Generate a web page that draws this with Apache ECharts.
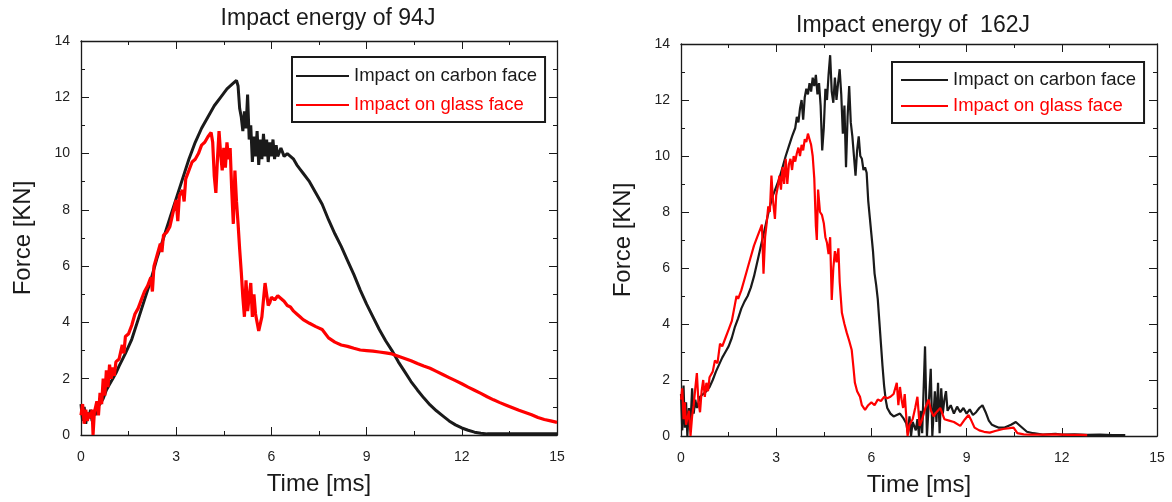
<!DOCTYPE html>
<html>
<head>
<meta charset="utf-8">
<script src="https://cdn.jsdelivr.net/npm/echarts@6/dist/echarts.min.js"></script>
<style>
html,body{margin:0;padding:0;background:#fff;}
#chart{width:1172px;height:502px;}
</style>
</head>
<body>
<div id="chart"></div>
<script>
// ---- Data (time in ms, force in kN) ----
const carbon94T = [0,0.05,0.1,0.15,0.2,0.25,0.3,0.35,0.4,0.45,0.5,0.6,0.7,0.8,0.9,1.0,1.1,1.2,1.4,1.6,1.8,2.0,2.2,2.4,2.6,2.8,3.0,3.2,3.4,3.6,3.8,4.0,4.2,4.4,4.6,4.8,4.9,4.95,5.0,5.05,5.1,5.15,5.2,5.25,5.3,5.35,5.4,5.45,5.5,5.55,5.6,5.65,5.7,5.75,5.8,5.85,5.9,5.95,6.0,6.05,6.1,6.15,6.2,6.3,6.4,6.5,6.6,6.7,6.8,6.9,7.0,7.2,7.4,7.6,7.8,8.0,8.2,8.4,8.6,8.8,9.0,9.2,9.4,9.6,9.8,10.0,10.2,10.4,10.6,10.8,11.0,11.2,11.4,11.6,11.8,12.0,12.2,12.4,12.6,12.8,13.0,13.5,14.0,14.5,15.0];
const carbon94F = [1.1,0.5,1.0,0.4,0.8,0.6,0.9,0.5,0.8,0.7,1.0,1.1,1.3,1.6,1.8,2.0,2.2,2.45,2.9,3.4,4.1,4.8,5.5,6.3,7.0,7.7,8.4,9.1,9.8,10.4,10.9,11.3,11.7,12.0,12.3,12.5,12.6,12.4,11.6,11.3,10.8,11.5,10.9,12.1,10.5,11.0,9.7,10.6,9.9,10.8,9.6,10.5,9.8,10.7,9.9,10.5,9.7,10.4,9.9,10.5,9.8,10.3,9.9,10.2,9.9,10.0,9.9,9.8,9.6,9.45,9.3,9.0,8.6,8.2,7.65,7.15,6.7,6.2,5.7,5.15,4.65,4.2,3.75,3.35,3.0,2.6,2.25,1.9,1.6,1.32,1.07,0.86,0.68,0.5,0.36,0.25,0.17,0.1,0.06,0.04,0.04,0.04,0.04,0.04,0.04];

const glass94T = [0,0.05,0.1,0.15,0.2,0.25,0.3,0.35,0.38,0.42,0.5,0.55,0.6,0.65,0.7,0.75,0.8,0.85,0.9,0.95,1.0,1.05,1.1,1.2,1.3,1.35,1.4,1.5,1.6,1.7,1.8,1.9,2.0,2.1,2.2,2.25,2.3,2.4,2.5,2.55,2.6,2.7,2.8,2.9,3.0,3.05,3.1,3.2,3.25,3.3,3.4,3.5,3.6,3.7,3.8,3.9,4.0,4.1,4.15,4.2,4.25,4.3,4.35,4.4,4.45,4.5,4.55,4.6,4.65,4.7,4.75,4.8,4.85,4.9,4.95,5.0,5.05,5.1,5.15,5.2,5.25,5.3,5.35,5.4,5.45,5.5,5.55,5.6,5.65,5.7,5.75,5.8,5.85,5.9,5.95,6.0,6.1,6.2,6.3,6.4,6.5,6.6,6.7,6.8,6.9,7.0,7.2,7.4,7.6,7.8,8.0,8.2,8.4,8.6,8.8,9.0,9.2,9.4,9.6,9.8,10.0,10.2,10.4,10.6,10.8,11.0,11.2,11.4,11.6,11.8,12.0,12.2,12.4,12.6,12.8,13.0,13.2,13.4,13.6,13.8,14.0,14.2,14.4,14.6,14.8,15.0];
const glass94F = [0.7,1.1,0.4,0.9,0.5,0.8,0.6,0.9,0.0,0.8,1.2,0.7,1.5,1.1,2.0,1.4,2.3,1.7,2.5,2.0,2.4,2.1,2.6,2.7,3.2,2.9,3.5,3.6,3.9,4.3,4.5,4.8,5.1,5.3,5.6,5.1,6.0,6.4,6.8,6.5,7.1,7.2,7.4,7.9,8.35,7.6,8.5,8.7,8.3,9.1,9.4,9.7,9.8,10.0,10.3,10.4,10.6,10.75,10.4,9.2,8.6,9.8,10.8,10.0,9.4,10.2,9.5,10.4,9.8,10.2,8.7,7.5,9.4,8.3,7.5,6.6,5.8,4.9,4.2,5.5,4.4,4.9,5.4,4.2,5.0,4.3,4.0,3.7,3.65,4.2,4.8,5.4,5.0,4.6,4.7,4.9,4.8,4.95,4.85,4.75,4.6,4.55,4.4,4.3,4.2,4.1,3.97,3.85,3.75,3.45,3.3,3.2,3.15,3.08,3.02,3.0,2.98,2.95,2.92,2.88,2.8,2.72,2.64,2.54,2.45,2.37,2.26,2.15,2.04,1.93,1.82,1.7,1.59,1.48,1.36,1.25,1.15,1.06,0.97,0.88,0.8,0.72,0.62,0.55,0.5,0.45];

const carbon162T = [0,0.04,0.08,0.12,0.16,0.2,0.25,0.3,0.35,0.4,0.45,0.5,0.6,0.7,0.8,0.9,1.0,1.1,1.2,1.3,1.4,1.5,1.6,1.7,1.8,1.9,2.0,2.1,2.2,2.3,2.4,2.5,2.6,2.7,2.8,2.9,3.0,3.1,3.2,3.3,3.4,3.5,3.6,3.65,3.7,3.75,3.8,3.85,3.9,3.95,4.0,4.05,4.1,4.15,4.2,4.25,4.3,4.35,4.4,4.45,4.5,4.55,4.6,4.65,4.7,4.75,4.8,4.85,4.9,4.95,5.0,5.05,5.1,5.15,5.2,5.25,5.3,5.35,5.4,5.45,5.5,5.55,5.6,5.65,5.7,5.75,5.8,5.85,5.9,5.95,6.0,6.05,6.1,6.15,6.2,6.25,6.3,6.35,6.4,6.45,6.5,6.6,6.7,6.8,6.9,7.0,7.1,7.15,7.2,7.25,7.3,7.4,7.45,7.5,7.55,7.6,7.69,7.75,7.82,7.87,7.92,8.0,8.05,8.1,8.15,8.2,8.25,8.3,8.35,8.4,8.5,8.6,8.7,8.8,8.9,9.0,9.1,9.2,9.3,9.4,9.5,9.6,9.7,9.8,9.9,10.0,10.2,10.4,10.55,10.7,10.9,11.1,11.4,11.8,12.0,12.4,12.8,13.2,13.6,14.0];
const carbon162F = [1.5,0.2,1.8,0.3,1.2,0.0,1.0,0.4,1.7,0.8,1.3,1.0,1.4,1.5,1.6,1.75,2.0,2.3,2.55,2.8,3.0,3.2,3.5,3.9,4.2,4.55,4.8,5.0,5.3,5.7,6.2,6.7,7.2,7.7,8.2,8.6,8.9,9.2,9.6,10.0,10.35,10.7,11.0,11.4,11.2,11.7,12.0,11.3,12.1,12.4,12.2,12.6,12.3,12.8,12.5,12.9,12.2,12.6,11.8,10.2,11.0,12.4,12.0,12.9,13.6,12.3,11.9,12.8,12.0,12.6,13.1,12.2,10.8,11.8,9.6,11.4,12.5,11.2,10.7,10.0,9.3,10.2,10.7,10.0,9.9,9.5,9.6,9.4,8.4,7.8,7.2,6.6,5.8,5.4,4.9,4.1,3.3,2.5,1.8,1.3,1.0,0.8,0.7,0.75,0.8,0.65,0.45,0.1,0.7,0.0,0.5,0.2,0.6,0.0,0.9,0.1,3.2,0.0,1.4,2.4,0.0,1.6,0.5,1.9,0.1,1.7,0.8,1.3,1.6,0.9,1.1,0.8,1.05,0.85,1.0,0.8,0.95,0.75,0.85,1.0,1.1,0.85,0.55,0.4,0.35,0.3,0.3,0.4,0.5,0.35,0.15,0.1,0.05,0.08,0.05,0.06,0.04,0.05,0.03,0.03];

const glass162T = [0,0.04,0.08,0.12,0.16,0.2,0.25,0.3,0.35,0.4,0.45,0.5,0.55,0.6,0.65,0.7,0.75,0.8,0.85,0.9,1.0,1.07,1.15,1.23,1.3,1.4,1.5,1.6,1.7,1.75,1.8,1.9,2.0,2.1,2.2,2.3,2.4,2.5,2.55,2.6,2.65,2.7,2.75,2.8,2.85,2.9,2.96,3.0,3.05,3.1,3.15,3.2,3.25,3.3,3.35,3.4,3.45,3.5,3.55,3.6,3.65,3.7,3.75,3.8,3.85,3.9,3.95,4.0,4.05,4.1,4.15,4.2,4.25,4.28,4.32,4.38,4.44,4.5,4.55,4.6,4.65,4.7,4.75,4.8,4.85,4.9,4.96,5.0,5.07,5.15,5.22,5.3,5.38,5.43,5.48,5.55,5.64,5.7,5.8,5.9,6.0,6.1,6.2,6.3,6.4,6.5,6.6,6.7,6.8,6.85,6.9,6.95,7.0,7.05,7.14,7.2,7.3,7.38,7.45,7.52,7.6,7.7,7.8,7.88,7.96,8.05,8.17,8.3,8.45,8.6,8.8,8.95,9.06,9.15,9.25,9.4,9.55,9.73,9.9,10.15,10.35,10.48,10.6,10.8,11.0,11.4,11.8,12.2,12.6,12.8];
const glass162F = [1.3,1.7,0.6,1.2,0.4,0.35,0.9,0.0,0.7,1.1,1.7,2.25,1.2,0.85,1.6,2.0,1.4,1.9,1.6,2.1,2.3,2.7,2.6,3.3,3.2,3.5,3.8,4.1,4.7,5.0,4.9,5.2,5.6,6.0,6.4,6.8,7.1,7.4,7.55,5.8,7.1,7.6,8.2,8.0,9.3,8.4,7.75,8.6,8.9,9.3,8.8,9.6,9.0,9.9,9.0,9.7,9.9,9.5,10.0,9.8,10.1,10.3,10.0,10.4,10.2,10.6,10.5,10.8,10.6,10.4,10.0,9.2,7.5,7.0,8.8,8.0,7.9,7.6,7.1,6.9,6.5,7.1,4.86,6.0,6.6,6.2,6.7,5.5,4.4,4.0,3.7,3.4,3.07,2.5,1.9,1.6,1.4,1.1,0.93,1.1,1.2,1.1,1.3,1.25,1.4,1.35,1.4,1.5,1.9,1.1,1.75,1.3,1.0,1.5,0.0,0.4,0.6,1.0,1.4,0.36,0.6,1.0,1.3,0.9,0.7,0.85,1.0,0.6,0.55,0.5,0.36,0.6,0.75,0.55,0.3,0.2,0.15,0.12,0.18,0.25,0.28,0.3,0.1,0.06,0.05,0.05,0.06,0.04,0.04,0.03];

const xTicks = [0, 3, 6, 9, 12, 15];
const yTicks = [0, 2, 4, 6, 8, 10, 12, 14];
const titles = ['Impact energy of 94J', 'Impact energy of  162J'];
const seriesNames = ['Impact on carbon face', 'Impact on glass face'];
const xName = 'Time [ms]';
const yName = 'Force [KN]';

// ---- Build ----
const zip = (t, f) => t.map((v, i) => [v, f[i]]);
const FONT = 'Liberation Sans';
const INK = '#1a1a1a';
const RED = '#ff0000';

const grids = [
  { left: 81, top: 41, width: 476, height: 394 },
  { left: 681, top: 44, width: 476, height: 392 }
];

function axisCommon(showLabel) {
  return {
    min: xTicks[0], max: xTicks[xTicks.length - 1], interval: 3,
    axisLine: { show: true, onZero: false, lineStyle: { color: INK, width: 1.3 } },
    axisTick: { show: true, inside: true, length: 8, lineStyle: { color: INK, width: 1 } },
    minorTick: { show: true, splitNumber: 2, length: 4, lineStyle: { color: INK, width: 1 } },
    splitLine: { show: false },
    axisLabel: { show: showLabel, color: '#222', fontFamily: FONT, fontSize: 14, margin: 15 }
  };
}
function yCommon(showLabel) {
  return {
    type: 'value',
    min: yTicks[0], max: yTicks[yTicks.length - 1], interval: 2,
    axisLine: { show: true, onZero: false, lineStyle: { color: INK, width: 1.3 } },
    axisTick: { show: true, inside: true, length: 8, lineStyle: { color: INK, width: 1 } },
    minorTick: { show: true, splitNumber: 2, length: 4, lineStyle: { color: INK, width: 1 } },
    splitLine: { show: false },
    axisLabel: { show: showLabel, color: '#222', fontFamily: FONT, fontSize: 14, margin: 11 }
  };
}

const xAxes = [], yAxes = [];
grids.forEach((g, gi) => {
  xAxes.push(Object.assign({ type: 'value', gridIndex: gi, position: 'bottom',
    name: xName, nameLocation: 'middle', nameGap: 37,
    nameTextStyle: { fontFamily: FONT, fontSize: 24, color: INK } }, axisCommon(true)));
  xAxes.push(Object.assign({ type: 'value', gridIndex: gi, position: 'top' }, axisCommon(false)));
  yAxes.push(Object.assign({ gridIndex: gi, position: 'left',
    name: yName, nameLocation: 'middle', nameGap: 46,
    nameTextStyle: { fontFamily: FONT, fontSize: 24, color: INK } }, yCommon(true)));
  yAxes.push(Object.assign({ gridIndex: gi, position: 'right' }, yCommon(false)));
});

function lineSeries(name, color, data, gi, width) {
  return {
    type: 'line', name: name, data: data,
    xAxisIndex: gi * 2, yAxisIndex: gi * 2,
    showSymbol: false, symbol: 'none', animation: false,
    lineStyle: { color: color, width: width, join: 'bevel' },
    itemStyle: { color: color },
    z: name === seriesNames[1] ? 3 : 2
  };
}

const series = [
  lineSeries(seriesNames[0], INK, zip(carbon94T, carbon94F), 0, 3),
  lineSeries(seriesNames[1], RED, zip(glass94T, glass94F), 0, 3.2),
  lineSeries(seriesNames[0], INK, zip(carbon162T, carbon162F), 1, 2.2),
  lineSeries(seriesNames[1], RED, zip(glass162T, glass162F), 1, 2.2)
];

function legendAt(left, top, padding, gap, iw) {
  return {
    left: left, top: top, orient: 'vertical', selectedMode: false,
    icon: 'rect', itemWidth: iw, itemHeight: 2, itemGap: gap,
    padding: padding, borderColor: INK, borderWidth: 2,
    textStyle: { fontFamily: FONT, fontSize: 18.5, lineHeight: 20 },
    data: [
      { name: seriesNames[0], textStyle: { color: INK } },
      { name: seriesNames[1], textStyle: { color: RED } }
    ]
  };
}

const option = {
  backgroundColor: '#fff',
  animation: false,
  title: [
    { text: titles[0], left: 328, top: 7, textAlign: 'center', padding: 0,
      textStyle: { fontFamily: FONT, fontSize: 23, fontWeight: 'normal', color: INK } },
    { text: titles[1], left: 913, top: 14, textAlign: 'center', padding: 0,
      textStyle: { fontFamily: FONT, fontSize: 23, fontWeight: 'normal', color: INK } }
  ],
  legend: [
    legendAt(292, 57, [9, 8, 7, 4], 9, 53),
    legendAt(892, 62, [8, 8, 7, 9], 6, 47)
  ],
  grid: grids.map(g => Object.assign({ containLabel: false }, g)),
  xAxis: xAxes,
  yAxis: yAxes,
  series: series
};

const chart = echarts.init(document.getElementById('chart'), null, { renderer: 'canvas' });
chart.setOption(option);
</script>
</body>
</html>
